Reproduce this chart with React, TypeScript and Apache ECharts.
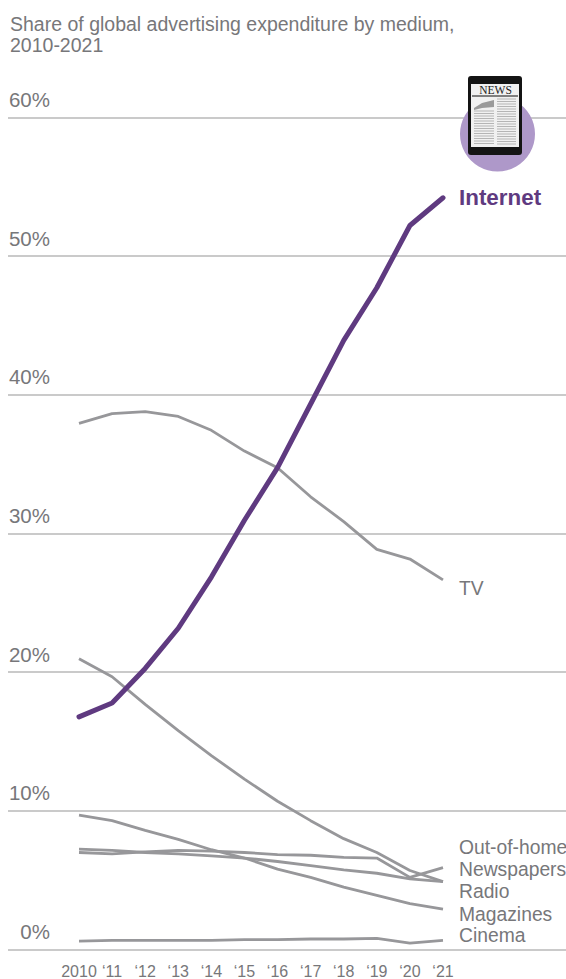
import React, { useEffect, useRef } from "react";
import * as echarts from "echarts";

const years = ["2010", "‘11", "‘12", "‘13", "‘14", "‘15", "‘16", "‘17", "‘18", "‘19", "‘20", "‘21"];
const internet = [16.7, 17.7, 20.2, 23.1, 26.8, 30.9, 34.7, 39.3, 43.9, 47.7, 52.2, 54.2];
const tv = [37.9, 38.6, 38.75, 38.4, 37.4, 35.9, 34.7, 32.6, 30.8, 28.8, 28.1, 26.6];
const newspapers = [20.9, 19.6, 17.6, 15.7, 13.9, 12.2, 10.6, 9.2, 7.9, 6.9, 5.6, 4.8];
const magazines = [9.6, 9.2, 8.5, 7.85, 7.1, 6.5, 5.7, 5.1, 4.4, 3.8, 3.2, 2.8];
const outOfHome = [6.9, 6.8, 6.95, 7.05, 7.0, 6.9, 6.75, 6.7, 6.55, 6.5, 5.1, 5.8];
const radio = [7.15, 7.05, 6.9, 6.8, 6.65, 6.5, 6.25, 5.95, 5.65, 5.4, 5.0, 4.8];
const cinema = [0.5, 0.55, 0.55, 0.55, 0.55, 0.6, 0.6, 0.65, 0.65, 0.7, 0.35, 0.55];
const greySeries: [string, number[]][] = [
  ["TV", tv],
  ["Newspapers", newspapers],
  ["Magazines", magazines],
  ["Out-of-home", outOfHome],
  ["Radio", radio],
  ["Cinema", cinema],
];
const titleText = "Share of global advertising expenditure by medium,\n2010-2021";
const FONT = "'Liberation Sans', Arial, sans-serif";
const GREY = "#77777a";
const endLabels: [string, number][] = [
  ["Out-of-home", 847],
  ["Newspapers", 869],
  ["Radio", 891],
  ["Magazines", 914],
  ["Cinema", 935],
  ["TV", 588],
];

const articleLines = (x: number, y0: number, y1: number, w: number) => {
  const out: any[] = [];
  for (let y = y0; y < y1; y += 2.5) {
    out.push({ type: "line", z: 12, shape: { x1: x, y1: y, x2: x + w, y2: y }, style: { stroke: "#b5b5b5", lineWidth: 1 } });
  }
  return out;
};

export default function App() {
  const ref = useRef<HTMLDivElement>(null);
  useEffect(() => {
    const chart = echarts.init(ref.current!, undefined, { renderer: "svg" });
    chart.setOption({
      animation: false,
      grid: [
        { left: 8, right: 0, top: 117.5, bottom: 29.7 },
        { left: 79, right: 123, top: 117.5, bottom: 29.7 },
      ],
      xAxis: [
        { gridIndex: 0, type: "category", data: years, show: false },
        {
          gridIndex: 1,
          type: "category",
          data: years,
          boundaryGap: false,
          axisLine: { show: false },
          axisTick: { show: false },
          axisLabel: { interval: 0, color: GREY, fontFamily: FONT, fontSize: 16, margin: 15 },
        },
      ],
      yAxis: [
        {
          gridIndex: 0,
          type: "value",
          min: 0,
          max: 60,
          interval: 10,
          axisLine: { show: false },
          axisTick: { show: false },
          splitLine: { lineStyle: { color: "#b9b9b9", width: 1.5 } },
          axisLabel: {
            color: GREY,
            fontFamily: FONT,
            fontSize: 20.5,
            align: "right",
            verticalAlign: "bottom",
            margin: -42,
            lineHeight: 20,
            padding: [0, 0, 8, 0],
            formatter: "{value}%",
          },
        },
        { gridIndex: 1, type: "value", min: 0, max: 60, interval: 10, show: false },
      ],
      series: [
        ...greySeries.map(([name, data]) => ({
          name,
          type: "line",
          xAxisIndex: 1,
          yAxisIndex: 1,
          data,
          symbol: "none",
          lineStyle: { color: "#97979a", width: 2.8 },
          z: 3,
        })),
        {
          name: "Internet",
          type: "line",
          xAxisIndex: 1,
          yAxisIndex: 1,
          data: internet,
          symbol: "none",
          lineStyle: { color: "#5f3a80", width: 5, cap: "round" },
          z: 4,
        },
      ],
      graphic: [
        { type: "text", left: 10, top: 13, style: { text: titleText, fill: GREY, font: `19.5px ${FONT}`, lineHeight: 21 } },
        ...endLabels.map(([text, y]) => ({
          type: "text",
          x: 459,
          y,
          style: { text, fill: GREY, font: `19.3px ${FONT}`, textVerticalAlign: "middle" },
        })),
        {
          type: "text",
          x: 459,
          y: 197,
          style: { text: "Internet", fill: "#5f3a80", font: `bold 22.4px ${FONT}`, textVerticalAlign: "middle" },
        },
        { type: "circle", z: 10, shape: { cx: 497.5, cy: 134, r: 37.5 }, style: { fill: "#ae98c9" } },
        { type: "rect", z: 11, shape: { x: 468, y: 76, width: 54, height: 79, r: 3 }, style: { fill: "#141414" } },
        { type: "rect", z: 12, shape: { x: 471, y: 84, width: 48, height: 63 }, style: { fill: "#f1f1f1" } },
        {
          type: "text",
          z: 13,
          x: 495.5,
          y: 90,
          style: { text: "NEWS", fill: "#222222", font: "11.5px 'Liberation Serif', serif", textAlign: "center", textVerticalAlign: "middle" },
        },
        { type: "rect", z: 13, shape: { x: 472, y: 95, width: 46, height: 2 }, style: { fill: "#7f7f7f" } },
        {
          type: "polygon",
          z: 13,
          shape: { points: [[474, 108], [482, 103], [494, 100], [494, 107], [482, 108], [474, 110]] },
          style: { fill: "#9a9a9a" },
        },
        ...articleLines(474, 111, 146, 20),
        ...articleLines(497, 99, 146, 19),
      ],
    });
    return () => chart.dispose();
  }, []);
  return <div ref={ref} style={{ position: "fixed", left: 0, top: 0, width: 566, height: 979, background: "#fff" }} />;
}
